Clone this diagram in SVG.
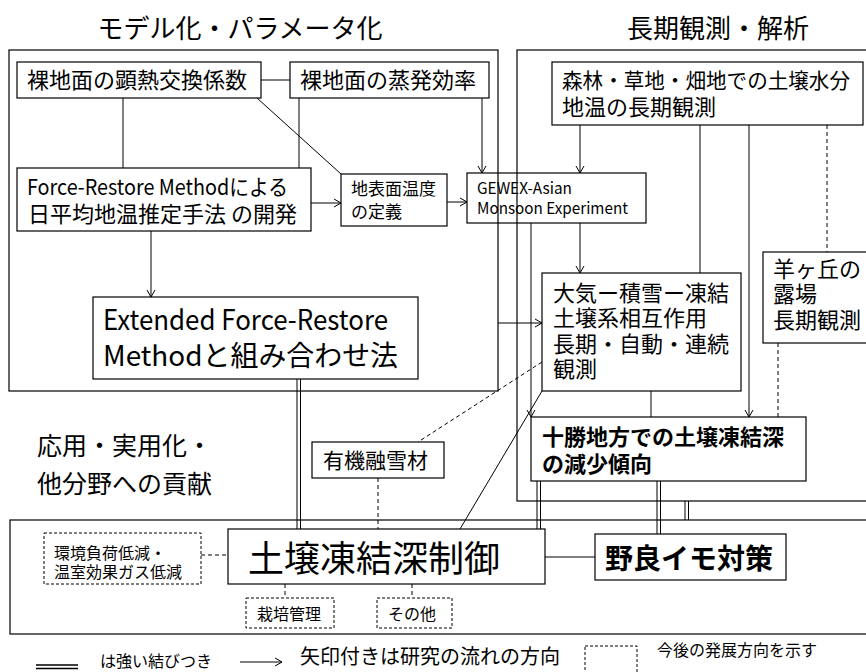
<svg xmlns="http://www.w3.org/2000/svg" width="866" height="672" viewBox="0 0 866 672">
<defs>
<marker id="arr" markerWidth="10" markerHeight="10" refX="8" refY="5" orient="auto" markerUnits="userSpaceOnUse">
<path d="M1,1 L8,5 L1,9" fill="none" stroke="#000" stroke-width="1"/>
</marker>
<style>
text{font-family:"Noto Sans CJK JP","Noto Sans",sans-serif;fill:#000}
.box{fill:#fff;stroke:#000;stroke-width:1.2}
.frame{fill:none;stroke:#000;stroke-width:1.2}
.dbox{fill:#fff;stroke:#000;stroke-width:1;stroke-dasharray:3,2}
.ln{fill:none;stroke:#000;stroke-width:1}
.ar{fill:none;stroke:#000;stroke-width:1;marker-end:url(#arr)}
.ds{fill:none;stroke:#000;stroke-width:1;stroke-dasharray:4,3}
.b{font-weight:bold}
</style>
</defs>
<rect width="866" height="672" fill="#fff"/>

<g id="headings">
<text x="240" y="38" font-size="26" text-anchor="middle">モデル化・パラメータ化</text>
<text x="718" y="38" font-size="26" text-anchor="middle">長期観測・解析</text>
<text x="37" y="455" font-size="25">応用・実用化・</text>
<text x="37" y="493" font-size="25">他分野への貢献</text>
</g>

<g id="frames">
<rect id="frame-model" class="frame" x="9" y="50" width="489" height="341"/>
<rect id="frame-obs" class="frame" x="517" y="50" width="360" height="451"/>
<rect id="frame-apply" class="frame" x="10" y="520" width="870" height="114"/>
</g>

<g id="connectors">
<line class="ln" x1="261" y1="80" x2="290" y2="80"/>
<line class="ln" x1="123" y1="98" x2="123" y2="168"/>
<line class="ln" x1="299" y1="98" x2="299" y2="168"/>
<line class="ln" x1="257" y1="98" x2="341" y2="174"/>
<line class="ar" x1="482" y1="98" x2="482" y2="173"/>
<line class="ar" x1="311" y1="203" x2="341" y2="203"/>
<line class="ar" x1="447" y1="202" x2="467" y2="202"/>
<line class="ar" x1="151" y1="231" x2="151" y2="297"/>
<line class="ln" x1="297" y1="379" x2="297" y2="529"/>
<line class="ln" x1="300.5" y1="379" x2="300.5" y2="529"/>
<line class="ar" x1="498" y1="323" x2="542" y2="323"/>
<line class="ar" x1="580" y1="125" x2="580" y2="173"/>
<line class="ar" x1="580" y1="223" x2="580" y2="273"/>
<line class="ln" x1="700" y1="125" x2="700" y2="273"/>
<line class="ar" x1="749" y1="125" x2="749" y2="417"/>
<line class="ds" x1="827" y1="125" x2="827" y2="252"/>
<line class="ds" x1="778" y1="343" x2="778" y2="417"/>
<line class="ar" x1="531" y1="223" x2="531" y2="417"/>
<line class="ln" x1="651" y1="391" x2="651" y2="417"/>
<line class="ds" x1="542" y1="362" x2="418" y2="442"/>
<line class="ln" x1="542" y1="391" x2="460" y2="529"/>
<line class="ds" x1="378" y1="478" x2="378" y2="529"/>
<line class="ln" x1="537" y1="481" x2="537" y2="529"/>
<line class="ln" x1="540.5" y1="481" x2="540.5" y2="529"/>
<line class="ln" x1="657" y1="481" x2="657" y2="534"/>
<line class="ln" x1="660.5" y1="481" x2="660.5" y2="534"/>
<line class="ln" x1="685" y1="501" x2="685" y2="520"/>
<line class="ln" x1="688.5" y1="501" x2="688.5" y2="520"/>
<line class="ln" x1="545" y1="557" x2="595" y2="557"/>
<line class="ds" x1="201" y1="555" x2="228" y2="555"/>
<line class="ds" x1="285" y1="584" x2="285" y2="598"/>
<line class="ds" x1="412" y1="584" x2="412" y2="598"/>
</g>

<g id="n-kennetsu">
<rect class="box" x="17" y="62" width="244" height="36"/>
<text x="27" y="88" font-size="22">裸地面の顕熱交換係数</text>
</g>
<g id="n-jouhatsu">
<rect class="box" x="290" y="62" width="199" height="36"/>
<text x="300" y="88" font-size="22">裸地面の蒸発効率</text>
</g>
<g id="n-force-restore">
<rect class="box" x="17" y="168" width="294" height="63"/>
<text x="27" y="195" font-size="22" textLength="261" lengthAdjust="spacingAndGlyphs">Force-Restore Methodによる</text>
<text x="28" y="222" font-size="22">日平均地温推定手法 の開発</text>
</g>
<g id="n-chihyou">
<rect class="box" x="341" y="174" width="106" height="52"/>
<text x="351" y="195" font-size="17">地表面温度</text>
<text x="351" y="218" font-size="17">の定義</text>
</g>
<g id="n-gewex">
<rect x="467" y="173" width="179" height="50" fill="none" stroke="#000" stroke-width="1.2"/>
<text x="477" y="194" font-size="16" textLength="95" lengthAdjust="spacingAndGlyphs">GEWEX-Asian</text>
<text x="477" y="214" font-size="16" textLength="151" lengthAdjust="spacingAndGlyphs">Monsoon Experiment</text>
</g>
<g id="n-extended">
<rect class="box" x="93" y="297" width="325" height="82"/>
<text x="103" y="330" font-size="28" textLength="285" lengthAdjust="spacingAndGlyphs">Extended Force-Restore</text>
<text x="103" y="366" font-size="28" textLength="295" lengthAdjust="spacingAndGlyphs">Methodと組み合わせ法</text>
</g>
<g id="n-shinrin">
<rect class="box" x="552" y="62" width="311" height="63"/>
<text x="562" y="88" font-size="21" textLength="288" lengthAdjust="spacingAndGlyphs">森林・草地・畑地での土壌水分</text>
<text x="562" y="115" font-size="22">地温の長期観測</text>
</g>
<g id="n-taiki">
<rect class="box" x="542" y="273" width="199" height="118"/>
<text x="553" y="301" font-size="22">大気ー積雪ー凍結</text>
<text x="553" y="326" font-size="22">土壌系相互作用</text>
<text x="553" y="352" font-size="22">長期・自動・連続</text>
<text x="553" y="377" font-size="22">観測</text>
</g>
<g id="n-hitsujigaoka">
<rect class="box" x="763" y="252" width="110" height="91"/>
<text x="773" y="277" font-size="22">羊ヶ丘の</text>
<text x="773" y="302" font-size="22">露場</text>
<text x="773" y="328" font-size="22">長期観測</text>
</g>
<g id="n-tokachi">
<rect class="box" x="531" y="417" width="275" height="64"/>
<text class="b" x="542" y="445" font-size="22">十勝地方での土壌凍結深</text>
<text class="b" x="542" y="472" font-size="22">の減少傾向</text>
</g>
<g id="n-yuki">
<rect class="box" x="312" y="442" width="132" height="36"/>
<text x="323" y="468" font-size="21">有機融雪材</text>
</g>
<g id="n-seigyo">
<rect class="box" x="228" y="529" width="317" height="55"/>
<text x="248" y="572" font-size="36">土壌凍結深制御</text>
</g>
<g id="n-norai">
<rect class="box" x="595" y="534" width="191" height="46"/>
<text class="b" x="605" y="569" font-size="28">野良イモ対策</text>
</g>
<g id="n-kankyo">
<rect class="dbox" x="44" y="533" width="157" height="51"/>
<text x="54" y="559" font-size="16">環境負荷低減・</text>
<text x="54" y="578" font-size="16">温室効果ガス低減</text>
</g>
<g id="n-saibai">
<rect class="dbox" x="246" y="598" width="88" height="30"/>
<text x="257" y="620" font-size="16">栽培管理</text>
</g>
<g id="n-sonota">
<rect class="dbox" x="377" y="598" width="75" height="30"/>
<text x="388" y="620" font-size="16">その他</text>
</g>

<g id="legend">
<line x1="36" y1="665" x2="78" y2="665" stroke="#000" stroke-width="1.5"/>
<line x1="36" y1="668.5" x2="78" y2="668.5" stroke="#000" stroke-width="1.5"/>
<text x="100" y="667" font-size="16">は強い結びつき</text>
<line class="ar" x1="240" y1="662" x2="282" y2="662"/>
<text x="300" y="664" font-size="20">矢印付きは研究の流れの方向</text>
<rect x="585" y="646" width="52" height="40" fill="none" stroke="#000" stroke-width="1" stroke-dasharray="3,2"/>
<text x="657" y="656" font-size="16">今後の発展方向を示す</text>
</g>
</svg>
